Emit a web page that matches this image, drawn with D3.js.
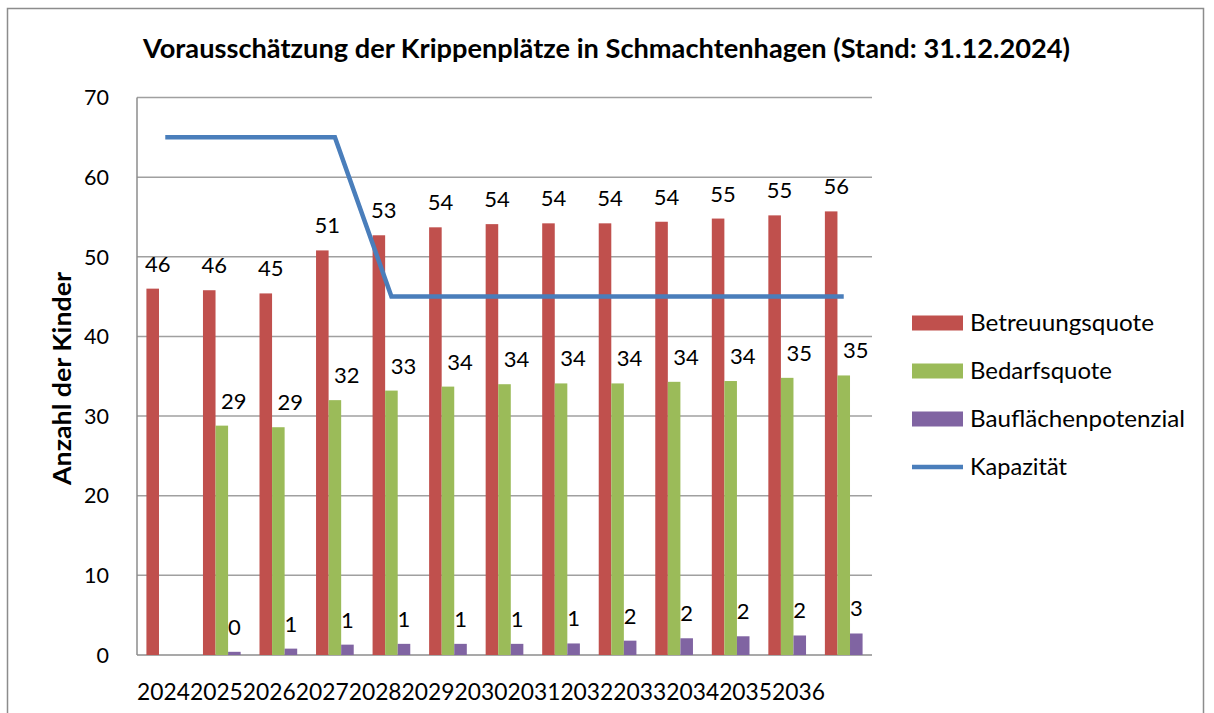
<!DOCTYPE html>
<html lang="en">
<head>
<meta charset="utf-8">
<script type="text/javascript" src="https://d3js.org/d3.v7.min.js"></script>
<style type="text/css">
  body { margin: 0; background: #fff; }
  text { font-family: Lato, "Open Sans", sans-serif; fill: #000; }
</style>
</head>
<body>
<script type="text/javascript">
var years = ["2024","2025","2026","2027","2028","2029","2030","2031","2032","2033","2034","2035","2036"];
var betreuung = [46.0, 45.8, 45.4, 50.8, 52.7, 53.7, 54.1, 54.2, 54.2, 54.4, 54.8, 55.2, 55.7];
var bedarf = [null, 28.8, 28.6, 32.0, 33.2, 33.7, 34.0, 34.1, 34.1, 34.3, 34.4, 34.8, 35.1];
var bauflaeche = [null, 0.4, 0.8, 1.3, 1.4, 1.4, 1.4, 1.45, 1.8, 2.1, 2.35, 2.45, 2.7];
var kapazitaet = [65, 65, 65, 65, 45, 45, 45, 45, 45, 45, 45, 45, 45];
var yTicks = [0, 10, 20, 30, 40, 50, 60, 70];

var barSeries = [
  {name: "Betreuungsquote", values: betreuung, color: "#C0504D", dx: 5},
  {name: "Bedarfsquote", values: bedarf, color: "#9BBB59", dx: 12},
  {name: "Bauflächenpotenzial", values: bauflaeche, color: "#8064A2", dx: 0}
];

var width = 1214, height = 713;
var plotL = 137, plotR = 872, plotT = 97.5, plotB = 655;

var svg = d3.select("body").append("svg")
    .attr("width", width)
    .attr("height", height);

// outer frame
svg.append("path")
    .attr("d", "M7.5,720V8.5H1203.5V720")
    .attr("fill", "none")
    .attr("stroke", "#8c8c8c")
    .attr("stroke-width", 1.5);

var x = d3.scaleBand().domain(years).range([plotL, plotR]);
var xs = d3.scaleBand().domain([0, 1, 2]).range([0, x.bandwidth()]).paddingOuter(0.75);
var y = d3.scaleLinear().domain([0, 70]).range([plotB, plotT]);

// gridlines
svg.append("g").selectAll("line")
    .data(yTicks.slice(1))
    .enter().append("line")
    .attr("x1", plotL).attr("x2", plotR)
    .attr("y1", function(d) { return y(d); })
    .attr("y2", function(d) { return y(d); })
    .attr("stroke", "#a0a0a0")
    .attr("stroke-width", 1.5);

// axes lines
svg.append("line")
    .attr("x1", plotL).attr("x2", plotL).attr("y1", plotT).attr("y2", plotB)
    .attr("stroke", "#8c8c8c").attr("stroke-width", 1.5);
svg.append("line")
    .attr("x1", plotL).attr("x2", plotR).attr("y1", plotB).attr("y2", plotB)
    .attr("stroke", "#8c8c8c").attr("stroke-width", 1.5);

// y tick labels
svg.append("g").selectAll("text")
    .data(yTicks)
    .enter().append("text")
    .attr("x", 109)
    .attr("y", function(d) { return y(d); })
    .attr("dy", "0.36em")
    .attr("text-anchor", "end")
    .attr("font-size", 21.5)
    .text(function(d) { return d; });

// x labels sit side by side, narrower than the bands
var xl = d3.scaleBand().domain(years).range([plotL, 825]);
svg.append("g").selectAll("text")
    .data(years)
    .enter().append("text")
    .attr("x", function(d) { return xl(d); })
    .attr("y", 700)
    .attr("font-size", 23)
    .attr("textLength", xl.bandwidth())
    .attr("lengthAdjust", "spacingAndGlyphs")
    .text(function(d) { return d; });

// bars + labels
barSeries.forEach(function(s, si) {
  var pts = years.map(function(yr, i) { return {year: yr, v: s.values[i]}; })
      .filter(function(p) { return p.v !== null; });
  var g = svg.append("g");
  g.selectAll("rect")
      .data(pts)
      .enter().append("rect")
      .attr("x", function(d) { return x(d.year) + xs(si); })
      .attr("width", xs.bandwidth())
      .attr("y", function(d) { return y(d.v); })
      .attr("height", function(d) { return plotB - y(d.v); })
      .attr("fill", s.color);
  g.selectAll("text")
      .data(pts)
      .enter().append("text")
      .attr("x", function(d) { return x(d.year) + xs(si) + xs.bandwidth() / 2 + s.dx; })
      .attr("y", function(d) { return y(d.v) - 17; })
      .attr("text-anchor", "middle")
      .attr("font-size", 22)
      .text(function(d) { return Math.round(d.v); });
});

// Kapazität line
var line = d3.line()
    .x(function(d, i) { return x(years[i]) + x.bandwidth() / 2; })
    .y(function(d) { return y(d); });
svg.append("path")
    .datum(kapazitaet)
    .attr("d", line)
    .attr("fill", "none")
    .attr("stroke", "#4A7EBB")
    .attr("stroke-width", 4.5);

// title
svg.append("text")
    .attr("x", 143)
    .attr("y", 58)
    .attr("font-size", 26)
    .attr("font-weight", "bold")
    .attr("textLength", 927)
    .attr("lengthAdjust", "spacingAndGlyphs")
    .text("Vorausschätzung der Krippenplätze in Schmachtenhagen (Stand: 31.12.2024)");

// y axis title
svg.append("text")
    .attr("transform", "translate(71,378.5) rotate(-90)")
    .attr("text-anchor", "middle")
    .attr("font-size", 24)
    .attr("font-weight", "bold")
    .attr("textLength", 213)
    .attr("lengthAdjust", "spacingAndGlyphs")
    .text("Anzahl der Kinder");

// legend
var legendItems = barSeries.map(function(s) { return {name: s.name, color: s.color, type: "bar"}; })
    .concat([{name: "Kapazität", color: "#4A7EBB", type: "line"}]);
var legendWidths = [184, 142, 215, 97];
var lg = svg.append("g").selectAll("g")
    .data(legendItems)
    .enter().append("g")
    .attr("transform", function(d, i) { return "translate(912," + (323 + i * 48) + ")"; });
lg.filter(function(d) { return d.type === "bar"; }).append("rect")
    .attr("x", 0).attr("y", -7.5).attr("width", 51).attr("height", 15)
    .attr("fill", function(d) { return d.color; });
lg.filter(function(d) { return d.type === "line"; }).append("line")
    .attr("x1", 0).attr("x2", 51).attr("y1", 0).attr("y2", 0)
    .attr("stroke", function(d) { return d.color; })
    .attr("stroke-width", 4.5);
lg.append("text")
    .attr("x", 58)
    .attr("dy", "0.36em")
    .attr("font-size", 23)
    .attr("textLength", function(d, i) { return legendWidths[i]; })
    .attr("lengthAdjust", "spacingAndGlyphs")
    .text(function(d) { return d.name; });
</script>
</body>
</html>
